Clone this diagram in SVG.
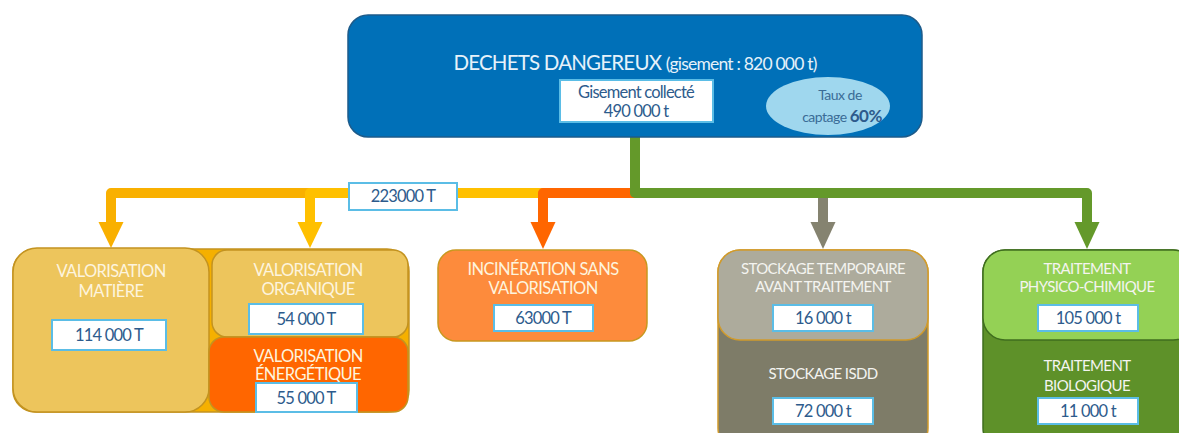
<svg xmlns="http://www.w3.org/2000/svg" width="1179" height="433" viewBox="0 0 1179 433">
  <defs>
    <style>
      text { font-family: "Lato", "Liberation Sans", sans-serif; }
      .lbl { fill: #fdf4de; font-size: 16.5px; text-anchor: middle; letter-spacing: -0.6px; }
      .lbl2 { fill: #f4f4f0; font-size: 15px; text-anchor: middle; letter-spacing: -0.6px; }
      .num { fill: #2d5b8c; font-size: 16.5px; text-anchor: middle; letter-spacing: -0.8px; }
      .vbox { fill: #ffffff; stroke: #5bbde6; stroke-width: 2; }
      .wire { fill: none; stroke-width: 10; stroke-linejoin: round; stroke-linecap: butt; }
    </style>
  </defs>

  <!-- Connectors -->
  <g id="connectors">
    <path class="wire" stroke="#f9b000" d="M 310 193 H 111 V 224"/>
    <polygon fill="#f9b000" points="98.5,222 123.5,222 111,248"/>
    <path class="wire" stroke="#ffc000" d="M 545 193 H 310 V 224"/>
    <polygon fill="#ffc000" points="297.5,222 322.5,222 310,248"/>
    <path class="wire" stroke="#ff6600" d="M 636 193 H 543 V 224"/>
    <polygon fill="#ff6600" points="530.5,222 555.5,222 543,249"/>
    <path class="wire" stroke="#858370" d="M 823 196 V 224"/>
    <polygon fill="#858370" points="810.5,222 835.5,222 823,249"/>
    <path class="wire" stroke="#64992a" d="M 635 137 V 193 H 1087 V 224"/>
    <polygon fill="#64992a" points="1074.5,222 1099.5,222 1087,249"/>
    <!-- total flow label -->
    <rect class="vbox" x="349" y="183" width="108" height="27"/>
    <text class="num" x="403" y="202">223000 T</text>
  </g>

  <!-- Source node -->
  <g id="dechets-dangereux">
    <rect x="348" y="15" width="574" height="122" rx="20" fill="#0070b8" stroke="#1d5b8a" stroke-width="1.5"/>
    <text x="635" y="70" text-anchor="middle" fill="#e6f2fa" letter-spacing="-0.8"><tspan font-size="20.5">DECHETS DANGEREUX </tspan><tspan font-size="17.5">(gisement : 820 000 t)</tspan></text>
    <rect class="vbox" x="560" y="80" width="153" height="42"/>
    <text class="num" x="636" y="98" font-size="16">Gisement collecté</text>
    <text class="num" x="636" y="117" font-size="16">490 000 t</text>
    <ellipse cx="828" cy="106" rx="62" ry="29" fill="#9fd7ee"/>
    <text x="840" y="100" text-anchor="middle" fill="#3a6c96" font-size="14" letter-spacing="-0.5">Taux de</text>
    <text x="842" y="122" text-anchor="middle" fill="#3a6c96" font-size="14" letter-spacing="-0.5">captage <tspan font-size="17" font-weight="bold" fill="#2d5b8c">60%</tspan></text>
  </g>

  <!-- Valorisation group -->
  <g id="valorisation">
    <rect x="13" y="249" width="396" height="163" rx="22" fill="#f5b000" stroke="#c39320" stroke-width="1.5"/>
    <g id="valorisation-matiere">
      <rect x="13" y="248" width="196" height="164" rx="24" fill="#edc55c" stroke="#c39320" stroke-width="1.5"/>
      <text class="lbl" x="111" y="277">VALORISATION</text>
      <text class="lbl" x="111" y="297">MATIÈRE</text>
      <rect class="vbox" x="52" y="320" width="114" height="30"/>
      <text class="num" x="109" y="341">114 000 T</text>
    </g>
    <g id="valorisation-organique">
      <rect x="212" y="250" width="196" height="87" rx="15" fill="#edc55c" stroke="#c39320" stroke-width="1.5"/>
      <text class="lbl" x="308" y="276">VALORISATION</text>
      <text class="lbl" x="308" y="295">ORGANIQUE</text>
      <rect class="vbox" x="249" y="304" width="114" height="30"/>
      <text class="num" x="306" y="325">54 000 T</text>
    </g>
    <g id="valorisation-energetique">
      <rect x="209" y="337" width="199" height="75" rx="15" fill="#ff6600" stroke="#c39320" stroke-width="1.5"/>
      <text class="lbl" x="308" y="362">VALORISATION</text>
      <text class="lbl" x="308" y="380">ÉNERGÉTIQUE</text>
      <rect class="vbox" x="256" y="383" width="101" height="29"/>
      <text class="num" x="306" y="404">55 000 T</text>
    </g>
  </g>

  <!-- Incineration -->
  <g id="incineration">
    <rect x="438" y="250" width="209" height="91" rx="18" fill="#fd8b3c" stroke="#c8981f" stroke-width="1.5"/>
    <text class="lbl" x="543" y="275">INCINÉRATION SANS</text>
    <text class="lbl" x="543" y="294">VALORISATION</text>
    <rect class="vbox" x="494" y="305" width="99" height="26"/>
    <text class="num" x="543" y="324">63000 T</text>
  </g>

  <!-- Stockage -->
  <g id="stockage">
    <rect x="718" y="250" width="210" height="200" rx="22" fill="#7e7c68" stroke="#d19b2b" stroke-width="1.5"/>
    <rect x="718" y="250" width="210" height="90" rx="22" fill="#adab9c" stroke="#d19b2b" stroke-width="1.5"/>
    <text class="lbl2" x="823" y="274">STOCKAGE TEMPORAIRE</text>
    <text class="lbl2" x="823" y="292">AVANT TRAITEMENT</text>
    <rect class="vbox" x="773" y="305" width="100" height="26"/>
    <text class="num" x="823" y="324">16 000 t</text>
    <text class="lbl2" x="823" y="379">STOCKAGE ISDD</text>
    <rect class="vbox" x="773" y="398" width="100" height="26"/>
    <text class="num" x="823" y="417">72 000 t</text>
  </g>

  <!-- Traitement -->
  <g id="traitement">
    <rect x="983" y="250" width="212" height="200" rx="22" fill="#5e9129" stroke="#3f6e1e" stroke-width="1.5"/>
    <rect x="983" y="250" width="212" height="90" rx="22" fill="#94d155" stroke="#3f6e1e" stroke-width="1.5"/>
    <text class="lbl2" x="1087" y="274">TRAITEMENT</text>
    <text class="lbl2" x="1087" y="292">PHYSICO-CHIMIQUE</text>
    <rect class="vbox" x="1038" y="305" width="100" height="26"/>
    <text class="num" x="1088" y="324">105 000 t</text>
    <text class="lbl2" x="1087" y="371">TRAITEMENT</text>
    <text class="lbl2" x="1087" y="391">BIOLOGIQUE</text>
    <rect class="vbox" x="1038" y="398" width="100" height="26"/>
    <text class="num" x="1088" y="417">11 000 t</text>
  </g>
</svg>
